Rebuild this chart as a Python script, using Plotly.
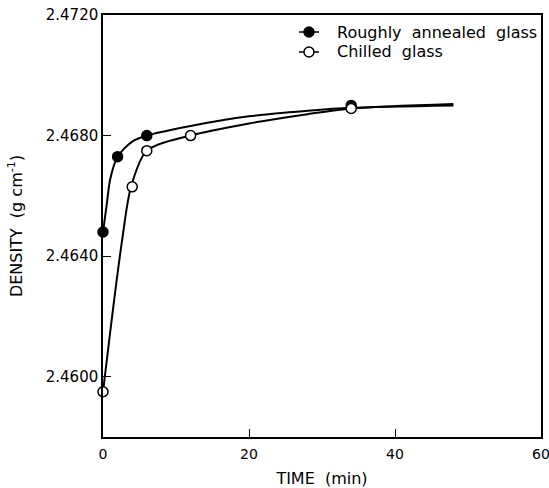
import plotly.graph_objects as go

# measured points
annealed_t = [0, 2, 6, 34]
annealed_rho = [2.4648, 2.4673, 2.4680, 2.4690]
chilled_t = [0, 4, 6, 12, 34]
chilled_rho = [2.4595, 2.4663, 2.4675, 2.4680, 2.4689]

# fitted curves
annealed_curve_t = [0, 0.5, 1, 2, 4, 6, 12, 20, 28, 34, 48]
annealed_curve_rho = [2.4648, 2.46569, 2.46657, 2.4673, 2.4678, 2.4680, 2.46832, 2.46864, 2.46882, 2.46892, 2.46900]
chilled_curve_t = [0, 0.3, 1.4, 2.6, 3.84, 6, 12, 20, 28, 34, 48]
chilled_curve_rho = [2.4595, 2.4601, 2.4623, 2.4645, 2.4663, 2.4675, 2.4680, 2.4684, 2.46871, 2.46890, 2.46905]

series_names = ["Roughly\u00a0 annealed\u00a0 glass", "Chilled\u00a0 glass"]
series_fill = ["black", "white"]

x_ticks = [0, 20, 40, 60]
y_ticks = [2.4600, 2.4640, 2.4680, 2.4720]
y_tick_labels = ["2.4600", "2.4640", "2.4680", "2.4720"]

FONT = "DejaVu Sans"
W, H = 549, 488
L, R, T, B = 103, 8, 15, 51
PW, PH = W - L - R, H - T - B

fig = go.Figure()

for ct, cr in [(annealed_curve_t, annealed_curve_rho), (chilled_curve_t, chilled_curve_rho)]:
    fig.add_trace(go.Scatter(x=ct, y=cr, mode="lines",
                             line=dict(color="black", width=2, shape="spline", smoothing=0.8),
                             showlegend=False, hoverinfo="skip"))

for (t, r), name, fc in zip([(annealed_t, annealed_rho), (chilled_t, chilled_rho)], series_names, series_fill):
    fig.add_trace(go.Scatter(x=t, y=r, mode="markers",
                             marker=dict(symbol="circle", size=10, color=fc,
                                         line=dict(color="black", width=1.5)),
                             name=name, showlegend=False, cliponaxis=False))

# hand-drawn legend (paper coordinates)
leg_x = (309 - L) / PW
leg_text_x = (335 - L) / PW
leg_rows_px = [32, 52]
shapes = []
annotations = []
for name, fc, ry in zip(series_names, series_fill, leg_rows_px):
    yp = 1 - (ry - T) / PH
    dx = 10 / PW
    rx, rya = 5 / PW, 5 / PH
    shapes.append(dict(type="line", xref="paper", yref="paper",
                       x0=leg_x - dx, x1=leg_x + dx, y0=yp, y1=yp,
                       line=dict(color="black", width=1.5)))
    shapes.append(dict(type="circle", xref="paper", yref="paper",
                       x0=leg_x - rx, x1=leg_x + rx, y0=yp - rya, y1=yp + rya,
                       fillcolor=fc, line=dict(color="black", width=1.5)))
    annotations.append(dict(text=name, xref="paper", yref="paper",
                            x=leg_text_x, y=yp, xanchor="left", yanchor="middle",
                            showarrow=False, font=dict(size=16, family=FONT, color="black")))

fig.update_layout(
    width=W, height=H,
    margin=dict(l=L, r=R, t=T, b=B),
    paper_bgcolor="white", plot_bgcolor="white",
    font=dict(family=FONT, size=14, color="black"),
    showlegend=False,
    shapes=shapes, annotations=annotations,
    xaxis=dict(range=[0, 60], tickvals=x_ticks, ticks="inside", ticklen=8,
               tickcolor="black", tickwidth=1.2, automargin=False,
               ticklabeloverflow="allow", ticklabelstandoff=3,
               showline=True, linecolor="black", linewidth=1.5, mirror=True,
               showgrid=False, zeroline=False,
               title=dict(text="TIME\u00a0 (min)", font=dict(size=16), standoff=12),
               tickfont=dict(size=14)),
    yaxis=dict(range=[2.458, 2.472], tickvals=y_ticks, ticktext=y_tick_labels,
               ticks="inside", ticklen=8, tickcolor="black", tickwidth=1.2, automargin=False,
               ticklabeloverflow="allow",
               showline=True, linecolor="black", linewidth=1.5, mirror=True,
               showgrid=False, zeroline=False,
               title=dict(text="DENSITY\u00a0 (g cm<sup>-1</sup>)", font=dict(size=16), standoff=19),
               tickfont=dict(size=15)),
)

fig.write_html("out.html", config={"displayModeBar": False},
               post_script="document.body.style.margin='0';document.body.style.overflow='hidden';")
